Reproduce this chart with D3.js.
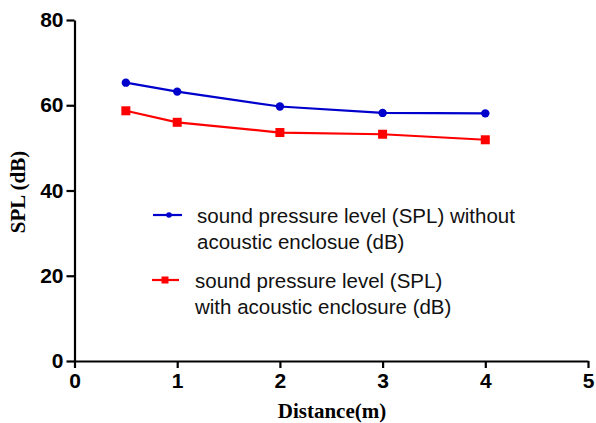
<!DOCTYPE html>
<html><head><meta charset="utf-8">
<script src="https://cdn.jsdelivr.net/npm/d3@7/dist/d3.min.js"></script>
<style>body{margin:0;background:#fff}</style>
</head><body><svg id="c" width="596" height="423"></svg>
<script>
const distances = [0.5, 1, 2, 3, 4];
const splWithout = [65.3, 63.2, 59.7, 58.2, 58.1];
const splWith = [58.7, 56.0, 53.6, 53.2, 51.9];
const xTicks = [0, 1, 2, 3, 4, 5];
const yTicks = [0, 20, 40, 60, 80];
const seriesNames = ["sound pressure level (SPL) without|acoustic enclosue (dB)", "sound pressure level (SPL)|with acoustic enclosure (dB)"];

const svg = d3.select("#c");
const x = d3.scaleLinear().domain([0, 5]).range([74.5, 588]);
const y = d3.scaleLinear().domain([0, 80]).range([361, 20]);

const xAxis = svg.append("g").attr("transform", `translate(0,${y(0)})`)
  .call(d3.axisBottom(x).tickValues(xTicks).tickFormat(d3.format("d")).tickSize(7).tickSizeOuter(0));
const yAxis = svg.append("g").attr("transform", `translate(${x(0)},0)`)
  .call(d3.axisLeft(y).tickValues(yTicks).tickFormat(d3.format("d")).tickSize(8).tickSizeOuter(0));
[xAxis, yAxis].forEach(a => {
  a.select(".domain").attr("stroke", "#000").attr("stroke-width", 2.2);
  a.selectAll(".tick line").attr("stroke", "#000").attr("stroke-width", 2.2);
  a.selectAll(".tick text").attr("fill", "#000").attr("font-family", "Liberation Sans, Arial, sans-serif")
    .attr("font-weight", "bold").attr("font-size", 21);
});
xAxis.selectAll(".tick text").attr("dy", "0.8em").attr("y", 10);
yAxis.selectAll(".tick text").attr("x", -11);

svg.append("text").attr("x", 332).attr("y", 418).attr("text-anchor", "middle")
  .attr("font-family", "Liberation Serif, Times New Roman, serif").attr("font-weight", "bold").attr("font-size", 21)
  .text("Distance(m)");
svg.append("text").attr("transform", `translate(25,192) rotate(-90)`).attr("text-anchor", "middle")
  .attr("font-family", "Liberation Serif, Times New Roman, serif").attr("font-weight", "bold").attr("font-size", 21)
  .text("SPL (dB)");

const line = d3.line().x((d, i) => x(distances[i])).y(d => y(d));
const series = [
  {vals: splWithout, color: "#0000cc", shape: "circle"},
  {vals: splWith, color: "#ff0000", shape: "square"}
];
series.forEach(s => {
  svg.append("path").datum(s.vals).attr("d", line).attr("fill", "none").attr("stroke", s.color).attr("stroke-width", 2.2);
  const g = svg.append("g").selectAll("*").data(s.vals).enter();
  if (s.shape === "circle") {
    g.append("circle").attr("cx", (d, i) => x(distances[i])).attr("cy", d => y(d)).attr("r", 4.2).attr("fill", s.color);
  } else {
    g.append("rect").attr("x", (d, i) => x(distances[i]) - 4.5).attr("y", d => y(d) - 4.5).attr("width", 9).attr("height", 9).attr("fill", s.color);
  }
});

// legend
const legY = [215, 280];
const legX = [[153, 182, 169, 197], [152, 179, 165, 195]];
series.forEach((s, k) => {
  const ly = legY[k], lx = legX[k];
  svg.append("line").attr("x1", lx[0]).attr("x2", lx[1]).attr("y1", ly).attr("y2", ly).attr("stroke", s.color).attr("stroke-width", 2.2);
  if (s.shape === "circle") svg.append("circle").attr("cx", lx[2]).attr("cy", ly).attr("r", 2.8).attr("fill", s.color);
  else svg.append("rect").attr("x", lx[2] - 3.5).attr("y", ly - 3.5).attr("width", 7).attr("height", 7).attr("fill", s.color);
  const lines = seriesNames[k].split("|");
  const t = svg.append("text").attr("font-family", "Liberation Sans, Arial, sans-serif").attr("font-size", 20.5).attr("fill", "#111");
  lines.forEach((ln, j) => {
    t.append("tspan").attr("x", lx[3]).attr("y", ly + 8 + j * 26).text(ln);
  });
});
</script></body></html>
